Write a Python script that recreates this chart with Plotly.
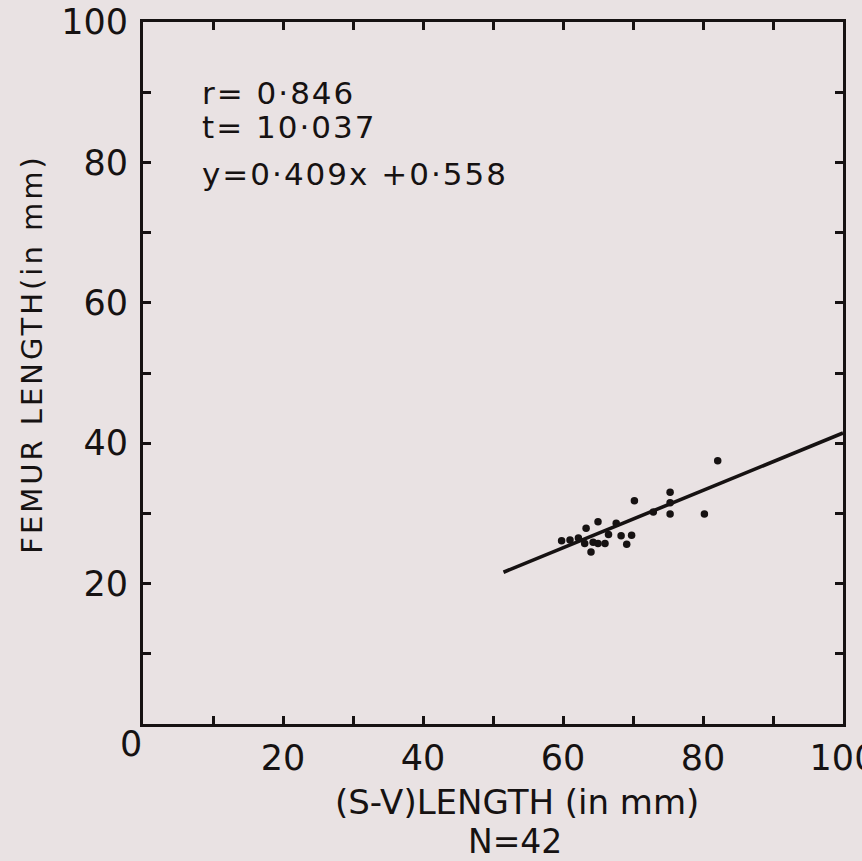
import plotly.graph_objects as go

# Data
sv_length = [59.8, 61.0, 62.2, 63.3, 63.1, 64.3, 65.0, 66.0, 64.0, 65.0, 66.5,
             67.6, 68.3, 69.8, 69.1, 70.2, 72.9, 75.3, 75.3, 75.3, 80.2, 82.1]
femur_length = [26.1, 26.2, 26.5, 27.9, 25.7, 25.9, 25.7, 25.7, 24.5, 28.8, 27.0,
                28.6, 26.8, 26.9, 25.6, 31.8, 30.2, 33.0, 31.5, 29.9, 29.9, 37.5]

slope = 0.409
intercept = 0.558
line_x = [51.5, 100]
line_y = [slope * v + intercept for v in line_x]

x_ticks = [20, 40, 60, 80, 100]
y_ticks = [20, 40, 60, 80, 100]
minor_ticks = list(range(0, 101, 10))

stats_lines = ["r= 0·846", "t= 10·037", "y=0·409x +0·558"]

FONT = "DejaVu Sans"
BG = "#e9e2e3"
INK = "#161212"


def spaced(text, px):
    return f'<span style="letter-spacing:{px}px">{text}</span>'


fig = go.Figure()
fig.add_trace(go.Scatter(x=line_x, y=line_y, mode="lines",
                         line=dict(color=INK, width=3.6), showlegend=False))
fig.add_trace(go.Scatter(x=sv_length, y=femur_length, mode="markers",
                         marker=dict(color=INK, size=7.5), showlegend=False))

axis_common = dict(showgrid=False, zeroline=False, showline=True, linecolor=INK,
                   linewidth=3, mirror="ticks", ticks="inside", ticklen=8,
                   tickwidth=2.5, tickcolor=INK, automargin=False,
                   range=[0, 100], tickmode="array", tickvals=minor_ticks,
                   ticklabeloverflow="allow",
                   tickfont=dict(family=FONT, size=35, color=INK))

fig.update_xaxes(ticktext=[str(v) if v in x_ticks else "" for v in minor_ticks],
                 ticklabelstandoff=1, **axis_common)
fig.update_yaxes(ticktext=[str(v) if v in y_ticks else "" for v in minor_ticks],
                 ticklabelstandoff=5, **axis_common)

annotations = []
for text, yv in zip(stats_lines, [89.9, 85.0, 78.3]):
    annotations.append(dict(x=8.1, y=yv, xref="x", yref="y", text=spaced(text, 2),
                            showarrow=False, xanchor="left", yanchor="middle",
                            font=dict(family=FONT, size=31, color=INK)))
annotations.append(dict(x=-0.017, y=-0.028, xref="paper", yref="paper", text="0",
                        showarrow=False, xanchor="center", yanchor="middle",
                        font=dict(family=FONT, size=35, color=INK)))
annotations.append(dict(x=-0.159, y=0.527, xref="paper", yref="paper",
                        text=spaced("FEMUR LENGTH(in mm)", 3), textangle=-90,
                        showarrow=False, xanchor="center", yanchor="middle",
                        font=dict(family=FONT, size=29, color=INK)))
annotations.append(dict(x=0.534, y=-0.111, xref="paper", yref="paper",
                        text="(S-V)LENGTH (in mm)", showarrow=False,
                        xanchor="center", yanchor="middle",
                        font=dict(family=FONT, size=34, color=INK)))
annotations.append(dict(x=0.531, y=-0.167, xref="paper", yref="paper",
                        text="N=42", showarrow=False,
                        xanchor="center", yanchor="middle",
                        font=dict(family=FONT, size=33, color=INK)))

fig.update_layout(width=862, height=861, paper_bgcolor=BG, plot_bgcolor=BG,
                  margin=dict(l=143, r=19, t=22, b=137),
                  annotations=annotations)

fig.write_html(
    "out.html",
    config={"displayModeBar": False},
    post_script=("document.body.style.margin='0';"
                 "document.body.style.background='" + BG + "';"
                 "document.body.style.overflow='hidden';"),
)
